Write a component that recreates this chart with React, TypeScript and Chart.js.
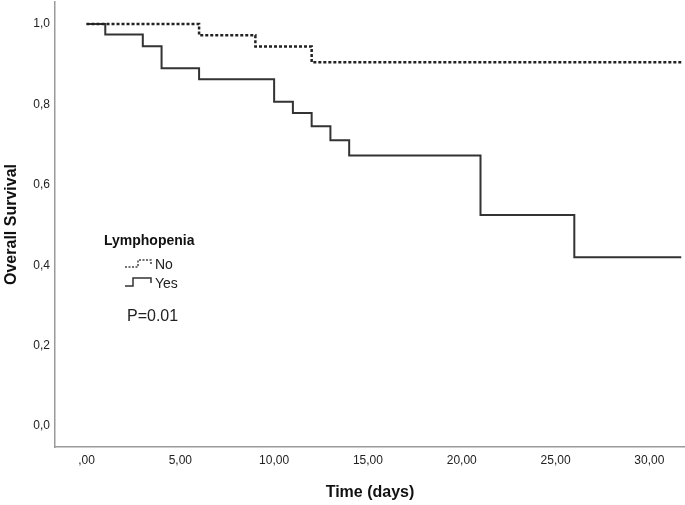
import React, { useEffect, useRef } from "react";
import { Chart, registerables } from "chart.js";

Chart.register(...registerables);

// Kaplan-Meier step data (time in days, survival proportion)
const noTimes = [0, 6, 9, 12, 31.7];
const noSurvival = [1.0, 0.972, 0.944, 0.905, 0.905];

const yesTimes = [0, 1, 3, 4, 6, 10, 11, 12, 13, 14, 21, 26, 31.7];
const yesSurvival = [1.0, 0.974, 0.945, 0.89, 0.863, 0.807, 0.779, 0.746, 0.711, 0.673, 0.525, 0.42, 0.42];

const xTicks = [0, 5, 10, 15, 20, 25, 30];
const yTicks = [0, 0.2, 0.4, 0.6, 0.8, 1.0];

const legendTitle = "Lymphopenia";
const seriesNames = ["No", "Yes"];
const pValueText = "P=0.01";
const xTitle = "Time (days)";
const yTitle = "Overall Survival";

const FONT = "'Liberation Sans', Arial, sans-serif";

const fmtX = (v: number) => {
  const s = v.toFixed(2).replace(".", ",");
  return s.startsWith("0,") ? s.slice(1) : s;
};
const fmtY = (v: number) => v.toFixed(1).replace(".", ",");

const annotationPlugin = {
  id: "kmAnnotations",
  afterDraw(chart: any) {
    const ctx = chart.ctx as CanvasRenderingContext2D;
    const { left, top } = chart.chartArea;
    ctx.save();
    // Legend title
    ctx.fillStyle = "#111";
    ctx.textBaseline = "middle";
    ctx.textAlign = "left";
    ctx.font = `bold 14px ${FONT}`;
    ctx.fillText(legendTitle, left + 49, top + 239);

    // Legend symbol "No" (dotted step)
    ctx.strokeStyle = "#444";
    ctx.lineWidth = 1.5;
    ctx.setLineDash([2, 1.5]);
    ctx.beginPath();
    ctx.moveTo(left + 70, top + 265);
    ctx.lineTo(left + 83, top + 265);
    ctx.lineTo(left + 83, top + 258);
    ctx.lineTo(left + 96, top + 258);
    ctx.lineTo(left + 96, top + 263);
    ctx.stroke();

    // Legend symbol "Yes" (solid step)
    ctx.setLineDash([]);
    ctx.strokeStyle = "#333";
    ctx.beginPath();
    ctx.moveTo(left + 70, top + 284);
    ctx.lineTo(left + 78, top + 284);
    ctx.lineTo(left + 78, top + 276);
    ctx.lineTo(left + 96, top + 276);
    ctx.lineTo(left + 96, top + 281);
    ctx.stroke();

    ctx.fillStyle = "#222";
    ctx.font = `14px ${FONT}`;
    ctx.fillText(seriesNames[0], left + 100, top + 263);
    ctx.fillText(seriesNames[1], left + 100, top + 282);

    ctx.font = `16px ${FONT}`;
    ctx.fillText(pValueText, left + 72, top + 315);
    ctx.restore();
  },
};

export default function App() {
  const canvasRef = useRef<HTMLCanvasElement | null>(null);

  useEffect(() => {
    document.body.style.margin = "0";
    const canvas = canvasRef.current;
    if (!canvas) return;
    const chart = new Chart(canvas, {
      type: "line",
      data: {
        datasets: [
          {
            label: seriesNames[0],
            data: noTimes.map((t, i) => ({ x: t, y: noSurvival[i] })),
            stepped: "before",
            borderColor: "#222",
            borderWidth: 2.5,
            borderDash: [3, 2],
            pointRadius: 0,
            fill: false,
          },
          {
            label: seriesNames[1],
            data: yesTimes.map((t, i) => ({ x: t, y: yesSurvival[i] })),
            stepped: "before",
            borderColor: "#333",
            borderWidth: 2,
            pointRadius: 0,
            fill: false,
          },
        ],
      },
      options: {
        animation: false,
        responsive: false,
        maintainAspectRatio: false,
        layout: { padding: { top: 2, right: 0, left: 0, bottom: 0 } },
        plugins: {
          legend: { display: false },
          tooltip: { enabled: false },
          title: { display: false },
        },
        scales: {
          x: {
            type: "linear",
            min: -1.68,
            max: 31.9,
            afterBuildTicks: (scale: any) => {
              scale.ticks = xTicks.map((v) => ({ value: v }));
            },
            afterFit: (scale: any) => {
              scale.height = 58;
              scale.paddingLeft = 0;
              scale.paddingRight = 0;
            },
            grid: { display: false, drawTicks: false },
            border: { display: true, color: "#9a9a9a", width: 1.5 },
            ticks: {
              padding: 6,
              color: "#222",
              font: { family: FONT, size: 12 },
              callback: (v: any) => fmtX(Number(v)),
              maxRotation: 0,
              autoSkip: false,
            },
            title: {
              display: true,
              text: xTitle,
              color: "#111",
              font: { family: FONT, size: 16, weight: "bold" },
              padding: { top: 0, bottom: 3 },
            },
          },
          y: {
            type: "linear",
            min: -0.052,
            max: 1.055,
            afterBuildTicks: (scale: any) => {
              scale.ticks = yTicks.map((v) => ({ value: v }));
            },
            afterFit: (scale: any) => {
              scale.width = 55;
              scale.paddingTop = 0;
              scale.paddingBottom = 0;
            },
            grid: { display: false, drawTicks: false },
            border: { display: true, color: "#9a9a9a", width: 1.5 },
            ticks: {
              padding: 5,
              color: "#222",
              font: { family: FONT, size: 12 },
              callback: (v: any) => fmtY(Number(v)),
              autoSkip: false,
            },
            title: {
              display: true,
              text: yTitle,
              color: "#111",
              font: { family: FONT, size: 16, weight: "bold" },
              padding: { top: 1.5, bottom: 0 },
            },
          },
        },
      },
      plugins: [annotationPlugin],
    } as any);
    return () => chart.destroy();
  }, []);

  return (
    <div style={{ position: "fixed", left: 0, top: 0, width: 685, height: 505, background: "#fff" }}>
      <canvas ref={canvasRef} width={685} height={505} style={{ display: "block" }} />
    </div>
  );
}
